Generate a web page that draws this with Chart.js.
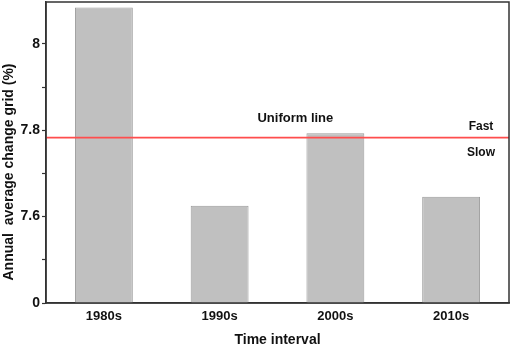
<!DOCTYPE html>
<html>
<head>
<meta charset="utf-8">
<script src="https://cdn.jsdelivr.net/npm/chart.js@4.4.1/dist/chart.umd.min.js"></script>
<style>
  html, body { margin: 0; padding: 0; background: #fff; }
  #wrap { width: 512px; height: 349px; }
</style>
</head>
<body>
<div id="wrap"><canvas id="chart" width="512" height="349"></canvas></div>
<script>
// data
const intervals = ['1980s', '1990s', '2000s', '2010s'];
const changeValues = [8.084, 7.625, 7.793, 7.646];
const uniformValue = 7.783;
// broken axis: the bottom of the axis stands for 0
const axisBottom = 7.4;
const axisTop = 8.097;
const tickLabels = { '7.4': '0', '7.6': '7.6', '7.8': '7.8', '8.0': '8' };

const font = 'Liberation Sans, Arial, sans-serif';

const framePlugin = {
    id: 'frame',
    afterDatasetsDraw(chart) {
        const { ctx, chartArea: a, scales } = chart;
        const y = scales.y.getPixelForValue(uniformValue);
        ctx.save();
        ctx.strokeStyle = '#ff4d4d';
        ctx.lineWidth = 1.6;
        ctx.beginPath();
        ctx.moveTo(a.left, y);
        ctx.lineTo(a.right, y);
        ctx.stroke();

        ctx.fillStyle = '#111';
        ctx.font = 'bold 13px ' + font;
        ctx.textBaseline = 'middle';
        ctx.textAlign = 'center';
        ctx.fillText('Uniform line', scales.x.getPixelForValue(2) - 40, y - 19);
        ctx.font = 'bold 12px ' + font;
        ctx.fillText('Fast', 481, y - 11);
        ctx.fillText('Slow', 481, y + 15);

        // y axis title sits a bit below the middle in the original
        ctx.font = 'bold 14px ' + font;
        ctx.translate(9, 172);
        ctx.rotate(-Math.PI / 2);
        ctx.fillText('Annual  average change grid (%)', 0, 0);
        ctx.setTransform(1, 0, 0, 1, 0, 0);

        ctx.strokeStyle = '#333';
        ctx.lineWidth = 1.5;
        ctx.strokeRect(a.left, a.top, a.right - a.left, a.bottom - a.top);
        ctx.restore();
    }
};

new Chart(document.getElementById('chart'), {
    type: 'bar',
    data: {
        labels: intervals,
        datasets: [{
            data: changeValues,
            backgroundColor: '#c0c0c0',
            borderColor: '#9c9c9c',
            borderWidth: 1,
            categoryPercentage: 1,
            barPercentage: 0.5
        }]
    },
    options: {
        responsive: false,
        animation: false,
        layout: { padding: { left: 0, right: 3, top: 2, bottom: 0 } },
        plugins: {
            legend: { display: false },
            tooltip: { enabled: false }
        },
        scales: {
            x: {
                grid: { display: false, drawTicks: false },
                border: { color: '#333', width: 1.5 },
                ticks: {
                    color: '#111',
                    padding: 6,
                    font: { family: font, size: 13, weight: 'bold' }
                },
                title: {
                    display: true,
                    text: 'Time interval',
                    color: '#111',
                    padding: { top: 0, bottom: 0 },
                    font: { family: font, size: 14, weight: 'bold' }
                },
                afterFit(scale) { scale.height = 46; }
            },
            y: {
                min: axisBottom,
                max: axisTop,
                afterBuildTicks(scale) {
                    scale.ticks = [7.4, 7.5, 7.6, 7.7, 7.8, 7.9, 8.0].map(v => ({ value: v }));
                },
                grid: {
                    display: true,
                    drawOnChartArea: false,
                    drawTicks: true,
                    tickLength: 4,
                    tickColor: '#333',
                    tickWidth: 1.2
                },
                border: { color: '#333', width: 1.5 },
                ticks: {
                    color: '#111',
                    padding: 2,
                    font: { family: font, size: 14, weight: 'bold' },
                    callback(value) {
                        return tickLabels[Number(value).toFixed(1)] || '';
                    }
                },
                afterFit(scale) {
                    scale.width = 46;
                    scale.paddingTop = 0;
                    scale.paddingBottom = 0;
                }
            }
        }
    },
    plugins: [framePlugin]
});
</script>
</body>
</html>
